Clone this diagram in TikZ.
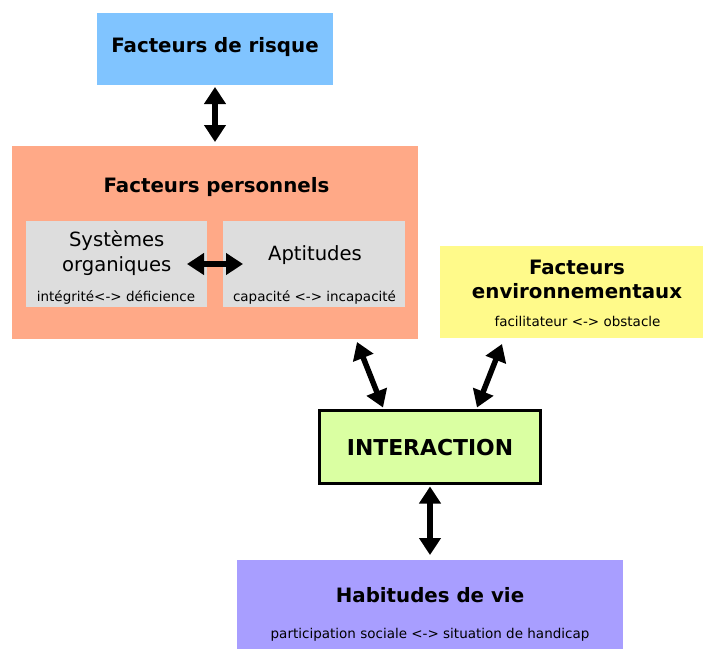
\documentclass[tikz,border=0pt]{standalone}
\usepackage{fontspec}
\setmainfont{DejaVu Sans}
\usetikzlibrary{arrows.meta,calc}
\definecolor{riskblue}{RGB}{128,196,255}
\definecolor{perssalmon}{RGB}{255,169,135}
\definecolor{boxgray}{RGB}{221,221,221}
\definecolor{envyellow}{RGB}{255,250,138}
\definecolor{intgreen}{RGB}{218,255,162}
\definecolor{habpurple}{RGB}{168,158,255}
\tikzset{
  panel/.style={inner sep=0pt, outer sep=0pt, draw=none},
  title/.style={font=\fontsize{19.8}{24}\selectfont\bfseries, align=center, inner sep=0pt},
  sub/.style={font=\fontsize{19.6}{25}\selectfont, align=center, inner sep=0pt},
  small/.style={font=\fontsize{13.5}{15}\selectfont, inner sep=0pt},
  dbl/.style={line width=5.5pt, {Triangle[width=21pt,length=17pt]}-{Triangle[width=21pt,length=17pt]}, shorten <=0pt, shorten >=0pt}
}
\begin{document}
\begin{tikzpicture}[x=1pt,y=-1pt]
\useasboundingbox[fill=white] (0,0) rectangle (703,649);
% boxes
\node[panel, fill=riskblue, minimum width=236pt, minimum height=72pt] (risk) at (215,49) {};
\node[panel, fill=perssalmon, minimum width=406pt, minimum height=193pt] (pers) at (215,242.5) {};
\node[panel, fill=boxgray, minimum width=181pt, minimum height=86pt] (sys) at (116.5,264) {};
\node[panel, fill=boxgray, minimum width=182pt, minimum height=86pt] (apt) at (314,264) {};
\node[panel, fill=envyellow, minimum width=263pt, minimum height=92pt] (env) at (571.5,292) {};
\node[inner sep=0pt, outer sep=0pt, fill=intgreen, draw=black, line width=3pt, minimum width=221pt, minimum height=73pt] (inter) at (430,447) {};
\node[panel, fill=habpurple, minimum width=386pt, minimum height=89pt] (hab) at (430,604.5) {};
% texts
\node[title] (risktxt) at (215,47.5) {Facteurs de risque};
\node[title] (perstxt) at (216.5,187) {Facteurs personnels};
\node[sub] (systxt) at (116.7,253.5) {Systèmes\\organiques};
\node[small] (syssub) at (116,297.5) {intégrité<-> déficience};
\node[sub] (apttxt) at (315,255) {Aptitudes};
\node[small] (aptsub) at (314.5,297.5) {capacité <-> incapacité};
\node[title] (envtxt) at (577,279.5) {Facteurs\\environnementaux};
\node[small] (envsub) at (577.5,321) {facilitateur <-> obstacle};
\node[title, font=\fontsize{21.9}{24}\selectfont\bfseries] (inttxt) at (430,448) {INTERACTION};
\node[title] (habtxt) at (430,594.7) {Habitudes de vie};
\node[small] (habsub) at (430,635) {participation sociale <-> situation de handicap};
% connectors
\draw[dbl] ($(risk.south)+(0,2)$) -- ($(pers.north)+(0,-4)$);
\draw[dbl] ($(sys.east)+(-20,0)$) -- ($(apt.west)+(20,0)$);
\draw[dbl] ($(pers.south east)+(-61,3)$) -- ($(inter.north)+(-47,-3)$);
\draw[dbl] ($(env.south west)+(62,6)$) -- ($(inter.north)+(47,-3)$);
\draw[dbl] ($(inter.south)+(0,3)$) -- ($(hab.north)+(0,-5)$);
\end{tikzpicture}
\end{document}
